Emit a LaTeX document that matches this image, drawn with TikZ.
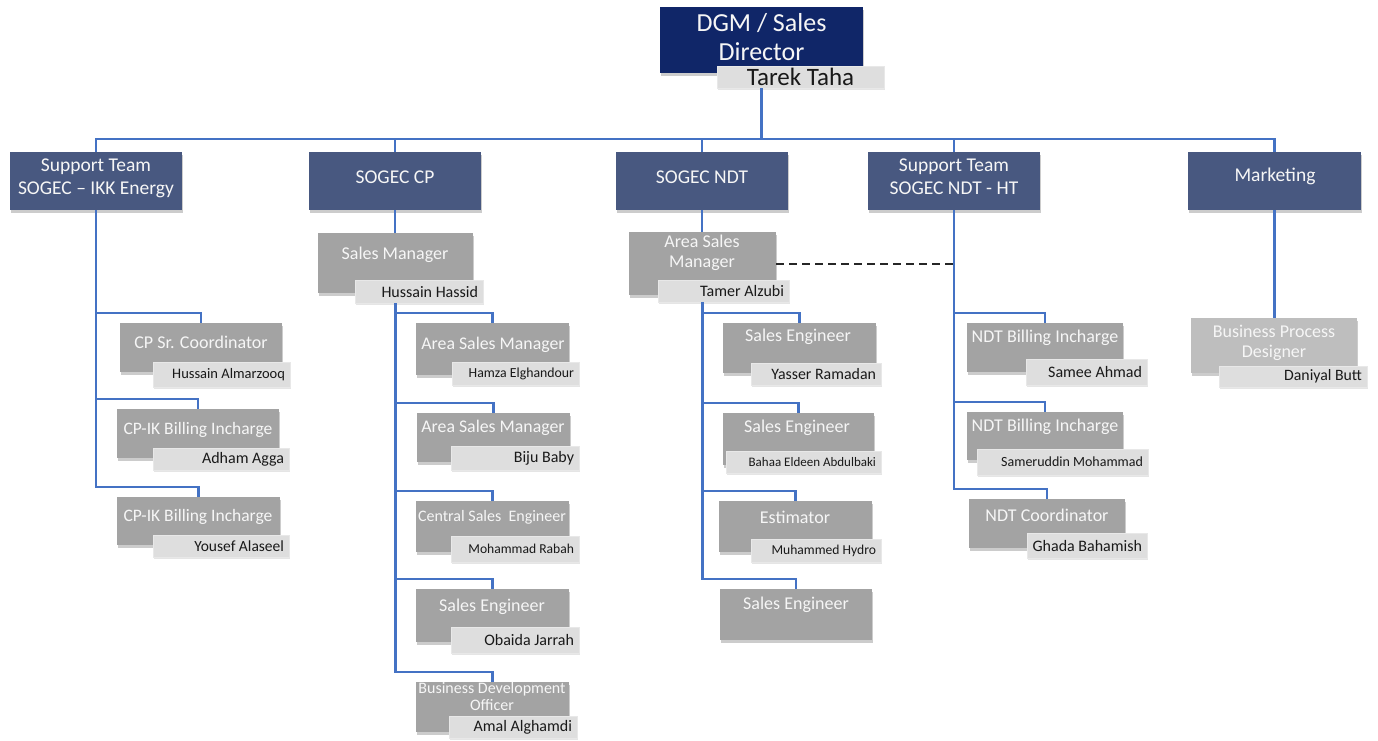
\documentclass[tikz,border=0pt]{standalone}
\usepackage{fontspec}
\setmainfont{Carlito}
\usetikzlibrary{shadows}
\definecolor{navy}{RGB}{16,38,104}
\definecolor{slate}{RGB}{72,88,128}
\definecolor{boxgray}{RGB}{163,163,163}
\definecolor{lightbox}{RGB}{190,190,190}
\definecolor{namegray}{RGB}{222,222,222}
\definecolor{conncol}{RGB}{68,114,196}
\definecolor{wtxt}{RGB}{246,246,246}
\tikzset{
  shad/.style={drop shadow={opacity=.4, shadow xshift=1pt, shadow yshift=-3pt}},
  topbox/.style={fill=navy, inner sep=0pt, shad},
  lonebox/.style={fill=slate, inner sep=0pt, shad},
  gbox/.style={fill=boxgray, inner sep=0pt, shad},
  lbox/.style={fill=lightbox, inner sep=0pt, shad},
  namebox/.style={fill=namegray, draw=white!82!gray, line width=.6pt, inner xsep=5pt, inner ysep=0pt, text=black!90, drop shadow={opacity=.2, shadow xshift=1pt, shadow yshift=-1.5pt}},
  wtext/.style={text=wtxt, align=center, inner sep=0pt},
  connector/.style={draw=conncol, line width=2.2pt},
}
\newcommand\obox[7]{%
  \pgfmathsetmacro\oCx{(#2+#4)/2}\pgfmathsetmacro\oCy{(#3+#5)/2}%
  \pgfmathsetmacro\oW{#4-#2}\pgfmathsetmacro\oH{#5-#3}%
  \node[#6, minimum width=\oW pt, minimum height=\oH pt] (#1) at (\oCx,\oCy) {#7};}
\newcommand\oname[7]{%
  \pgfmathsetmacro\oCx{(#2+#4)/2}\pgfmathsetmacro\oCy{(#3+#5)/2}%
  \pgfmathsetmacro\oW{#4-#2-10}\pgfmathsetmacro\oH{#5-#3}%
  \node[namebox, minimum height=\oH pt, font=\fontsize{#6}{#6}\selectfont] (#1) at (\oCx,\oCy) {\makebox[\oW pt][r]{#7}};}
\newcommand\otext[6]{%
  \node[wtext, font=\fontsize{#4}{#5}\selectfont] (#1) at (#2,#3) {#6};}
\begin{document}
\begin{tikzpicture}[x=1pt,y=-1pt]
\useasboundingbox (0,0) rectangle (1378,740);
\fill[white] (0,0) rectangle (1378,740);

% top
\obox{dgm}{660}{7}{863}{73}{topbox}{}
\otext{dgmt}{761.5}{37}{26}{29}{DGM / Sales\\Director}
\node[namebox, minimum width=167pt, minimum height=22pt, inner xsep=0pt, font=\fontsize{25}{25}\selectfont] (tarek) at (800.5,77) {Tarek Taha};

% level 1
\obox{s1}{10}{152}{182}{210}{lonebox}{}
\otext{s1t}{96}{178}{19.5}{23}{Support Team\\SOGEC – IKK Energy}
\obox{cp}{309}{152}{481}{210}{lonebox}{}
\otext{cpt}{395}{177}{19.5}{23}{SOGEC CP}
\obox{ndt}{616}{152}{788}{210}{lonebox}{}
\otext{ndtt}{702}{177}{19.5}{23}{SOGEC NDT}
\obox{ht}{868}{152}{1040}{210}{lonebox}{}
\otext{htt}{954}{177}{19.5}{23}{Support Team\\SOGEC NDT - HT}
\obox{mk}{1188}{152}{1361}{210}{lonebox}{}
\otext{mkt}{1275}{176}{19.5}{23}{Marketing}

% left column
\obox{a1}{120}{323}{282}{372}{gbox}{}
\otext{a1t}{201}{342}{18}{20}{CP Sr. Coordinator}
\oname{a1n}{153}{362}{290}{387}{14.5}{Hussain Almarzooq}
\obox{a2}{117}{409}{279}{458}{gbox}{}
\otext{a2t}{198}{430}{17.5}{20}{CP-IK Billing Incharge}
\oname{a2n}{153}{448}{289}{470}{16}{Adham Agga}
\obox{a3}{117}{497}{280}{545}{gbox}{}
\otext{a3t}{198}{517}{17.5}{20}{CP-IK Billing Incharge}
\oname{a3n}{153}{535}{289}{557}{15.5}{Yousef Alaseel}

% CP column
\obox{b0}{318}{233}{473}{293}{gbox}{}
\otext{b0t}{395}{255}{18}{20}{Sales Manager}
\oname{b0n}{355}{280}{483}{303}{16}{Hussain Hassid}
\obox{b1}{416}{323}{569}{375}{gbox}{}
\otext{b1t}{493}{345}{17.8}{20}{Area Sales Manager}
\oname{b1n}{452}{362}{579}{385}{13.8}{Hamza Elghandour}
\obox{b2}{417}{413}{570}{462}{gbox}{}
\otext{b2t}{493}{428}{17.8}{20}{Area Sales Manager}
\oname{b2n}{451}{446}{579}{470}{16}{Biju Baby}
\obox{b3}{416}{501}{569}{552}{gbox}{}
\otext{b3t}{492}{517}{16}{18}{Central Sales\ \ Engineer}
\oname{b3n}{451}{536}{579}{562}{13.6}{Mohammad Rabah}
\obox{b4}{416}{589}{569}{642}{gbox}{}
\otext{b4t}{492}{607}{18}{20}{Sales Engineer}
\oname{b4n}{451}{627}{579}{653}{16}{Obaida Jarrah}
\obox{b5}{416}{682}{569}{732}{gbox}{}
\otext{b5t}{492}{696}{16}{17}{Business Development\\Officer}
\oname{b5n}{449}{716}{577}{738}{16}{Amal Alghamdi}

% NDT column
\obox{c0}{629}{232}{776}{295}{gbox}{}
\otext{c0t}{702}{253}{18}{20}{Area Sales\\Manager}
\oname{c0n}{658}{280}{789}{302}{16}{Tamer Alzubi}
\obox{c1}{723}{323}{876}{373}{gbox}{}
\otext{c1t}{798}{337}{18}{20}{Sales Engineer}
\oname{c1n}{751}{363}{881}{385}{15.9}{Yasser Ramadan}
\obox{c2}{723}{413}{874}{465}{gbox}{}
\otext{c2t}{797}{428}{18}{20}{Sales Engineer}
\oname{c2n}{726}{451}{881}{473}{13}{Bahaa Eldeen Abdulbaki}
\obox{c3}{719}{501}{872}{552}{gbox}{}
\otext{c3t}{795}{517}{18}{20}{Estimator}
\oname{c3n}{751}{539}{881}{562}{13.6}{Muhammed Hydro}
\obox{c4}{720}{589}{872}{640}{gbox}{}
\otext{c4t}{796}{605}{18}{20}{Sales Engineer}

% NDT - HT column
\obox{d1}{967}{323}{1123}{372}{gbox}{}
\otext{d1t}{1045}{338}{18}{20}{NDT Billing Incharge}
\oname{d1n}{1026}{359}{1147}{385}{16}{Samee Ahmad}
\obox{d2}{967}{412}{1123}{460}{gbox}{}
\otext{d2t}{1045}{427}{18}{20}{NDT Billing Incharge}
\oname{d2n}{977}{449}{1148}{475}{14}{Sameruddin Mohammad}
\obox{d3}{969}{499}{1125}{548}{gbox}{}
\otext{d3t}{1047}{515}{18}{20}{NDT Coordinator}
\oname{d3n}{1027}{533}{1147}{558}{16}{Ghada Bahamish}

% Marketing
\obox{e1}{1191}{318}{1357}{373}{lbox}{}
\otext{e1t}{1274}{343}{18}{20}{Business Process\\Designer}
\oname{e1n}{1219}{366}{1367}{387}{15.8}{Daniyal Butt}

% connectors: top
\foreach \t in {s1,cp,ndt,ht,mk}
  \draw[connector] (tarek.south -| dgm.center) |- ([yshift=13pt]\t.north) -- (\t.north);
% left
\foreach \t in {a1,a2,a3}
  \draw[connector] (s1.south) |- ([yshift=10pt]\t.north) -- (\t.north);
% CP
\draw[connector] (cp.south) -- (cp.south |- b0.north);
\foreach \t in {b1,b2,b3,b4,b5}
  \draw[connector] (b0n.south -| b0.center) |- ([yshift=10pt]\t.north) -- (\t.north);
% NDT
\draw[connector] (ndt.south) -- (ndt.south |- c0.north);
\foreach \t in {c1,c2,c3,c4}
  \draw[connector] (c0n.south -| c0.center) |- ([yshift=10pt]\t.north) -- (\t.north);
% HT
\foreach \t in {d1,d2,d3}
  \draw[connector] (ht.south) |- ([yshift=10pt]\t.north) -- (\t.north);
% Marketing
\draw[connector] (mk.south) -- (mk.south |- e1.north);
% dashed
\draw[black!85, line width=2pt, dash pattern=on 8pt off 5pt] (c0.east) -- (c0.east -| ht.south);
\end{tikzpicture}
\end{document}
